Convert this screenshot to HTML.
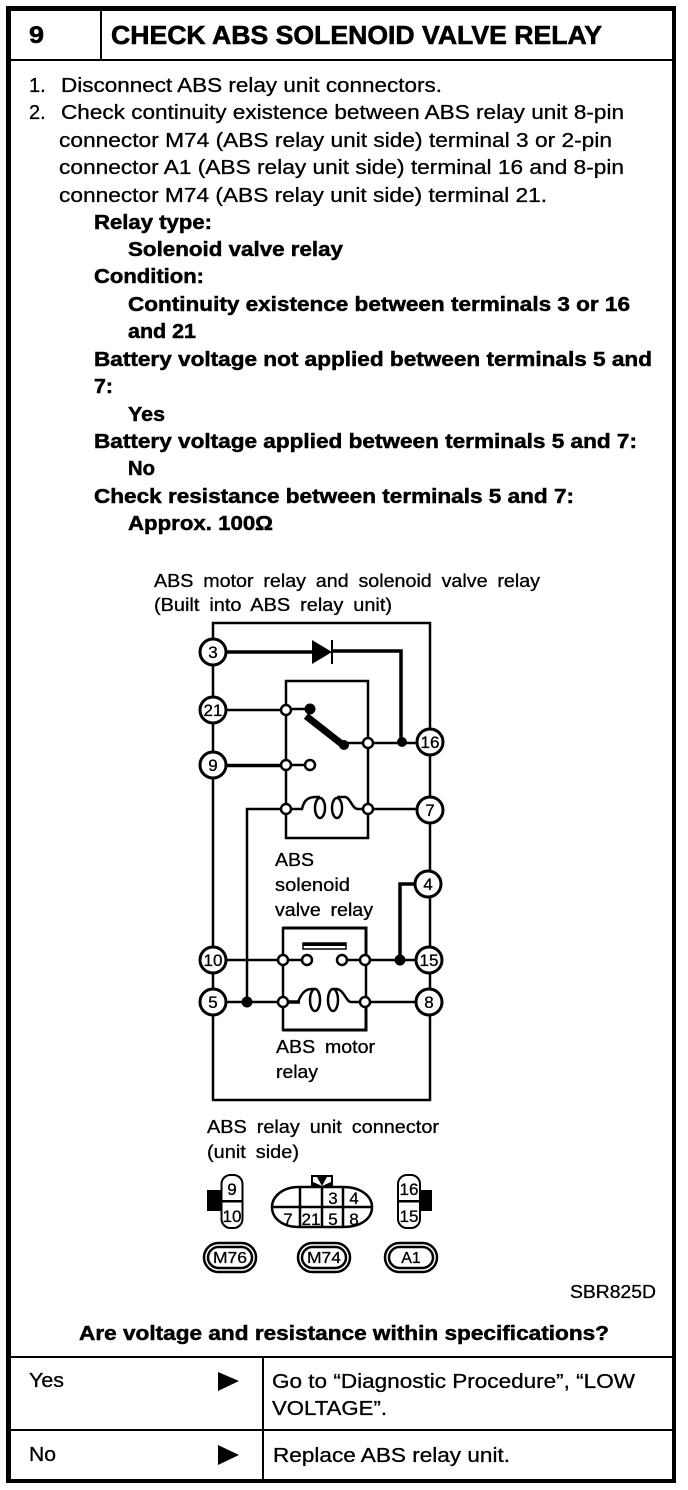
<!DOCTYPE html>
<html><head><meta charset="utf-8"><style>
html,body{margin:0;padding:0;background:#fff;width:688px;height:1490px;overflow:hidden}
svg{display:block}
text{font-family:"Liberation Sans",sans-serif;fill:#000;stroke:#000;stroke-width:.3px}
.n{font-size:20px}.b{font-size:20px;font-weight:bold;stroke-width:.5px}.s{font-size:18px;word-spacing:4px}
.c{font-size:17px;text-anchor:middle}
.k{fill:none;stroke:#000;stroke-width:2.5}
.o{fill:#fff;stroke:#000;stroke-width:2.5}
.p{fill:#fff;stroke:#000;stroke-width:3}
</style></head><body>
<svg width="688" height="1490" viewBox="0 0 688 1490" xmlns="http://www.w3.org/2000/svg">
<rect width="688" height="1490" fill="#fff"/>
<!-- frame -->
<rect x="6" y="6" width="5" height="1477"/>
<rect x="6" y="6" width="670" height="5"/>
<rect x="6" y="1479" width="670" height="4"/>
<rect x="672" y="6" width="4" height="1477"/>
<rect x="8" y="59" width="666" height="2"/>
<rect x="100" y="8" width="2" height="51"/>
<rect x="8" y="1356" width="666" height="2"/>
<rect x="8" y="1429" width="666" height="2"/>
<rect x="262" y="1357" width="2" height="124"/>
<text x="29" y="43" font-size="24" font-weight="bold" textLength="15" lengthAdjust="spacingAndGlyphs" style="stroke-width:.6px">9</text>
<text x="111" y="44" font-size="26" font-weight="bold" textLength="491" lengthAdjust="spacingAndGlyphs" style="stroke-width:.6px">CHECK ABS SOLENOID VALVE RELAY</text>
<!-- body text -->
<text class="n" x="29" y="92">1.</text>
<text class="n" x="61" y="92" textLength="381" lengthAdjust="spacingAndGlyphs">Disconnect ABS relay unit connectors.</text>
<text class="n" x="29" y="119">2.</text>
<text class="n" x="61" y="119" textLength="563" lengthAdjust="spacingAndGlyphs">Check continuity existence between ABS relay unit 8-pin</text>
<text class="n" x="59" y="147" textLength="553" lengthAdjust="spacingAndGlyphs">connector M74 (ABS relay unit side) terminal 3 or 2-pin</text>
<text class="n" x="59" y="174" textLength="565" lengthAdjust="spacingAndGlyphs">connector A1 (ABS relay unit side) terminal 16 and 8-pin</text>
<text class="n" x="59" y="202" textLength="488" lengthAdjust="spacingAndGlyphs">connector M74 (ABS relay unit side) terminal 21.</text>
<text class="b" x="94" y="229" textLength="118" lengthAdjust="spacingAndGlyphs">Relay type:</text>
<text class="b" x="128" y="256" textLength="215" lengthAdjust="spacingAndGlyphs">Solenoid valve relay</text>
<text class="b" x="94" y="283" textLength="110" lengthAdjust="spacingAndGlyphs">Condition:</text>
<text class="b" x="128" y="311" textLength="502" lengthAdjust="spacingAndGlyphs">Continuity existence between terminals 3 or 16</text>
<text class="b" x="128" y="338" textLength="68" lengthAdjust="spacingAndGlyphs">and 21</text>
<text class="b" x="94" y="366" textLength="558" lengthAdjust="spacingAndGlyphs">Battery voltage not applied between terminals 5 and</text>
<text class="b" x="94" y="393" textLength="19" lengthAdjust="spacingAndGlyphs">7:</text>
<text class="b" x="128" y="421" textLength="37" lengthAdjust="spacingAndGlyphs">Yes</text>
<text class="b" x="94" y="448" textLength="543" lengthAdjust="spacingAndGlyphs">Battery voltage applied between terminals 5 and 7:</text>
<text class="b" x="128" y="475" textLength="27" lengthAdjust="spacingAndGlyphs">No</text>
<text class="b" x="94" y="503" textLength="480" lengthAdjust="spacingAndGlyphs">Check resistance between terminals 5 and 7:</text>
<text class="b" x="128" y="530" textLength="145" lengthAdjust="spacingAndGlyphs">Approx. 100Ω</text>
<!-- diagram labels -->
<text class="s" x="154" y="587" textLength="386" lengthAdjust="spacingAndGlyphs">ABS motor relay and solenoid valve relay</text>
<text class="s" x="154" y="611" textLength="238" lengthAdjust="spacingAndGlyphs">(Built into ABS relay unit)</text>
<text class="s" x="275" y="866" textLength="39" lengthAdjust="spacingAndGlyphs">ABS</text>
<text class="s" x="275" y="891" textLength="75" lengthAdjust="spacingAndGlyphs">solenoid</text>
<text class="s" x="275" y="916" textLength="98" lengthAdjust="spacingAndGlyphs">valve relay</text>
<text class="s" x="276" y="1053" textLength="99" lengthAdjust="spacingAndGlyphs">ABS motor</text>
<text class="s" x="276" y="1078" textLength="42" lengthAdjust="spacingAndGlyphs">relay</text>
<text class="s" x="207" y="1133" textLength="232" lengthAdjust="spacingAndGlyphs">ABS relay unit connector</text>
<text class="s" x="207" y="1158" textLength="92" lengthAdjust="spacingAndGlyphs">(unit side)</text>
<!-- wiring -->
<g class="k">
<path d="M213 1100V623H430V1100H213Z"/>
<path d="M226 710H286M368 743H417M368 809H417M286 809H247V1002"/>
<path d="M286 681H368V838H286Z"/>
<path d="M286 765H310"/>
<path d="M226 960H307M342 960H416M226 1002H283M365 1002H416"/>
<path d="M283 928H366V1030H283Z"/>
</g>
<path d="M226 652H312M332 651H401V742" fill="none" stroke="#000" stroke-width="3.500"/>
<path d="M226 765.500H286" fill="none" stroke="#000" stroke-width="3.500"/>
<path d="M400 960V884H416" fill="none" stroke="#000" stroke-width="3.500"/>
<path d="M283 928H366V960" fill="none" stroke="#000" stroke-width="3"/>
<path d="M283 1030H366V1002" fill="none" stroke="#000" stroke-width="3"/>
<!-- diode -->
<path d="M312 640L332 652L312 664Z"/>
<rect x="331" y="640" width="2" height="24"/>
<!-- switch -->
<path d="M306 716L343 745" stroke="#000" stroke-width="7" fill="none"/>
<circle cx="310" cy="709" r="5.500"/><circle cx="344" cy="745" r="5"/>
<path d="M292 709H305" stroke="#000" stroke-width="2.500"/>
<path d="M344 743H368" stroke="#000" stroke-width="2.500"/>
<circle cx="402" cy="742" r="5"/><circle cx="400" cy="960" r="5.500"/><circle cx="247" cy="1002" r="5.500"/>
<!-- upper coil -->
<path class="k" d="M286 809H302C304 800 308 797 316 797H320M337 797H345C350 797 352 809 358 809H368"/>
<ellipse class="k" cx="320" cy="808" rx="5" ry="10"/>
<ellipse class="k" cx="337" cy="808" rx="5" ry="10"/>
<!-- lower coil -->
<path class="k" d="M283 1002H298C302 992 306 989 312 989H315M333 989H336C344 989 346 1002 351 1002H365"/>
<path d="M283 1002H300" stroke="#000" stroke-width="3.500"/>
<ellipse class="k" cx="315" cy="1000" rx="5" ry="11"/>
<ellipse class="k" cx="333" cy="1000" rx="5" ry="11"/>
<!-- relay contact bar -->
<rect x="303" y="943" width="43" height="3"/>
<rect x="303" y="943" width="43" height="6" fill="none" stroke="#000" stroke-width="1.500"/>
<!-- open nodes -->
<g class="o">
<circle cx="286" cy="710" r="5"/><circle cx="368" cy="743" r="5"/>
<circle cx="286" cy="765" r="5"/><circle cx="310" cy="765" r="5"/>
<circle cx="286" cy="809" r="5"/><circle cx="368" cy="809" r="5"/>
<circle cx="283" cy="960" r="5"/><circle cx="307" cy="960" r="5"/>
<circle cx="342" cy="960" r="5"/><circle cx="365" cy="960" r="5"/>
<circle cx="283" cy="1002" r="5"/><circle cx="365" cy="1002" r="5"/>
</g>
<!-- terminals -->
<g class="p">
<circle cx="213" cy="652" r="13"/><circle cx="213" cy="710" r="13"/><circle cx="213" cy="765" r="13"/>
<circle cx="430" cy="742" r="13"/><circle cx="430" cy="810" r="13"/><circle cx="428" cy="884" r="13"/>
<circle cx="429" cy="960" r="13"/><circle cx="213" cy="960" r="13"/><circle cx="213" cy="1002" r="13"/>
<circle cx="429" cy="1002" r="13"/>
</g>
<g>
<text x="213" y="658" class="c">3</text><text x="213" y="716" class="c">21</text><text x="213" y="771" class="c">9</text>
<text x="430" y="748" class="c">16</text><text x="430" y="816" class="c">7</text><text x="428" y="890" class="c">4</text>
<text x="429" y="966" class="c">15</text><text x="213" y="966" class="c">10</text><text x="213" y="1008" class="c">5</text>
<text x="429" y="1008" class="c">8</text>
</g>
<!-- connectors -->
<rect x="207" y="1190" width="15" height="21"/>
<rect x="221.500" y="1175" width="21" height="53" rx="9" fill="#fff" stroke="#000" stroke-width="2"/>
<rect x="222" y="1200" width="20" height="2.500"/>
<text class="c" x="232" y="1195">9</text><text class="c" x="232" y="1222">10</text>
<rect x="419" y="1190" width="13" height="21"/>
<rect x="398" y="1175" width="22" height="53" rx="9" fill="#fff" stroke="#000" stroke-width="2"/>
<rect x="398" y="1200" width="22" height="2.500"/>
<text class="c" x="409" y="1195">16</text><text class="c" x="409" y="1222">15</text>
<path class="k" d="M299 1187H343C362 1187 372 1197 372 1207C372 1218 362 1227 343 1227H299C282 1227 272 1218 272 1207C272 1197 282 1187 299 1187Z"/>
<path class="k" d="M272 1207H372M300 1187V1227M322 1187V1227M343 1187V1227"/>
<path d="M311 1175H333V1187H311Z"/>
<path d="M313 1177L317 1177L322 1186L313 1182ZM331 1177L327 1177L322 1186L331 1182Z" fill="#fff"/>
<text class="c" x="333" y="1204">3</text><text class="c" x="354" y="1204">4</text>
<text class="c" x="288" y="1225">7</text><text class="c" x="311" y="1225">21</text><text class="c" x="333" y="1225">5</text><text class="c" x="354" y="1225">8</text>
<!-- capsules -->
<g fill="none" stroke="#000" stroke-width="2.500">
<rect x="204" y="1243" width="52" height="29" rx="14.500"/><rect x="208" y="1247" width="44" height="21" rx="10.500"/>
<rect x="298" y="1243" width="52" height="29" rx="14.500"/><rect x="302" y="1247" width="44" height="21" rx="10.500"/>
<rect x="385" y="1243" width="52" height="29" rx="14.500"/><rect x="389" y="1247" width="44" height="21" rx="10.500"/>
</g>
<text x="230" y="1263" font-size="16" text-anchor="middle" textLength="34" lengthAdjust="spacingAndGlyphs">M76</text>
<text x="324" y="1263" font-size="16" text-anchor="middle" textLength="34" lengthAdjust="spacingAndGlyphs">M74</text>
<text x="411" y="1263" font-size="16" text-anchor="middle">A1</text>
<text x="570" y="1298" font-size="18" textLength="86" lengthAdjust="spacingAndGlyphs">SBR825D</text>
<text class="b" x="79" y="1340" textLength="530" lengthAdjust="spacingAndGlyphs">Are voltage and resistance within specifications?</text>
<!-- table -->
<text class="n" x="29" y="1387" textLength="35" lengthAdjust="spacingAndGlyphs">Yes</text>
<text class="n" x="29" y="1461" textLength="27" lengthAdjust="spacingAndGlyphs">No</text>
<path d="M218 1372L239 1381L218 1391Z"/>
<path d="M218 1445L239 1455L218 1465Z"/>
<text class="n" x="272" y="1388" textLength="363" lengthAdjust="spacingAndGlyphs">Go to “Diagnostic Procedure”, “LOW</text>
<text class="n" x="272" y="1415" textLength="115" lengthAdjust="spacingAndGlyphs">VOLTAGE”.</text>
<text class="n" x="273" y="1462" textLength="237" lengthAdjust="spacingAndGlyphs">Replace ABS relay unit.</text>
</svg>
</body></html>
